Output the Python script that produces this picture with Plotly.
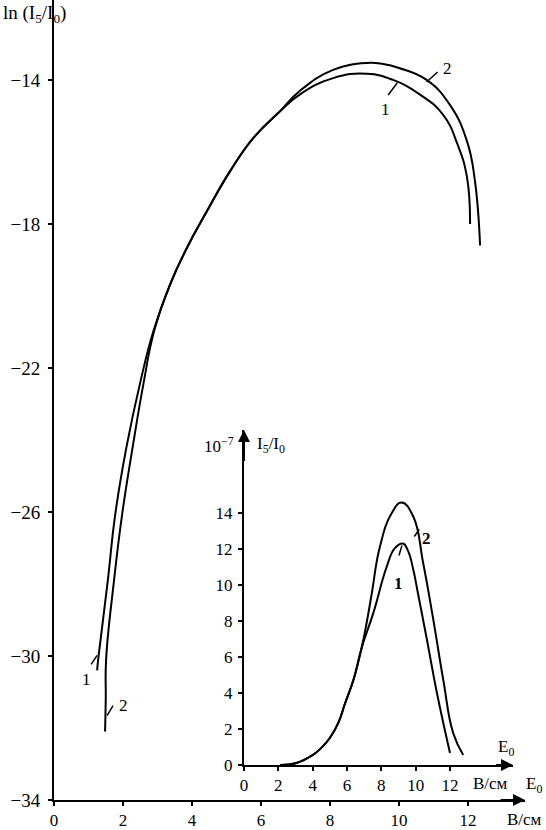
import plotly.graph_objects as go

# main plot: ln(I5/I0) against E0, B/cm
e_main_1 = [1.25, 1.28, 1.56, 1.77, 2.1, 2.5, 2.88, 3.36, 3.85, 4.43, 5.1, 5.78,
            6.55, 7.13, 8.09, 9.07, 9.83, 10.6, 11.28, 11.7, 11.97, 12.06]
ln_main_1 = [-30.4, -30.1, -27.9, -26.1, -24.2, -22.4, -20.98, -19.69, -18.67, -17.65, -16.54, -15.61,
             -14.87, -14.4, -13.95, -13.83, -14.0, -14.4, -14.97, -15.8, -16.7, -18.0]

e_main_2 = [1.48, 1.5, 1.51, 1.74, 1.97, 2.28, 2.6, 2.9, 3.36, 3.85, 4.43, 5.1, 5.78,
            6.55, 7.13, 8.09, 9.07, 9.54, 10.0, 10.8, 11.48, 11.97, 12.2, 12.35]
ln_main_2 = [-32.1, -31.2, -30.1, -27.9, -26.1, -24.2, -22.4, -20.98, -19.69, -18.67, -17.65, -16.54, -15.61,
             -14.87, -14.3, -13.72, -13.53, -13.56, -13.67, -14.0, -14.7, -15.7, -16.8, -18.6]

# inset: I5/I0 in units of 1e-7
e_ins_1 = [2.1, 3.0, 4.0, 4.5, 5.0, 5.5, 5.88, 6.4, 6.85, 7.53, 8.31, 8.79, 9.26, 9.55, 9.85,
           10.13, 10.66, 11.24, 12.0]
i_ins_1 = [0.0, 0.1, 0.55, 0.95, 1.5, 2.35, 3.4, 4.8, 6.5, 8.43, 11.0, 12.04, 12.3, 11.9, 10.9,
           9.55, 6.94, 4.0, 0.67]

e_ins_2 = [2.1, 3.0, 4.0, 4.5, 5.0, 5.5, 5.88, 6.4, 6.85, 7.14, 7.44, 7.92, 8.6, 9.18, 9.86,
           10.44, 11.03, 11.61, 12.19, 12.77]
i_ins_2 = [0.0, 0.1, 0.55, 0.95, 1.5, 2.35, 3.4, 4.8, 6.5, 7.87, 9.5, 12.13, 13.98, 14.57, 13.8,
           11.2, 8.06, 4.72, 1.76, 0.56]

main_xticks = [0, 2, 4, 6, 8, 10, 12]
main_yticks = [-34, -30, -26, -22, -18, -14]
ins_xticks = [0, 2, 4, 6, 8, 10, 12]
ins_yticks = [0, 2, 4, 6, 8, 10, 12, 14]

FONT = "Liberation Serif"
line = dict(color="black", width=2)
spline = dict(line_shape="spline", line_smoothing=1.3)

fig = go.Figure()
fig.add_trace(go.Scatter(x=e_main_1, y=ln_main_1, mode="lines", line=line, **spline))
fig.add_trace(go.Scatter(x=e_main_2, y=ln_main_2, mode="lines", line=line, **spline))
fig.add_trace(go.Scatter(x=e_ins_1, y=i_ins_1, mode="lines", line=line, xaxis="x2", yaxis="y2", **spline))
fig.add_trace(go.Scatter(x=e_ins_2, y=i_ins_2, mode="lines", line=line, xaxis="x2", yaxis="y2", **spline))


def ax_style(size):
    return dict(showline=True, linecolor="black", linewidth=2, ticks="outside",
                tickcolor="black", tickwidth=2, ticklen=4, showgrid=False, automargin=False,
                zeroline=False, tickfont=dict(family=FONT, size=size, color="black"))


fig.update_layout(
    width=546, height=830,
    margin=dict(l=54, r=21, t=0, b=30),
    plot_bgcolor="white", paper_bgcolor="white",
    showlegend=False,
    xaxis=dict(range=[0, 13.652], tickvals=main_xticks, ticklabelstandoff=0, **ax_style(17)),
    yaxis=dict(range=[-34, -11.78], tickvals=main_yticks,
               ticktext=["\u2212" + str(abs(v)) for v in main_yticks],
               ticklabelstandoff=4, **ax_style(19)),
    xaxis2=dict(domain=[0.4034, 0.9745], anchor="y2", range=[0, 15.67],
                tickvals=ins_xticks, ticklabelstandoff=0, **ax_style(17)),
    yaxis2=dict(domain=[0.04375, 0.4625], anchor="x2", range=[0, 18.6],
                tickvals=ins_yticks, ticklabelstandoff=2, **ax_style(17)),
)

# axis arrows
arrow = dict(text="", showarrow=True, arrowhead=2, arrowsize=1.2, arrowwidth=2, arrowcolor="black")
fig.add_annotation(x=13.652, y=-34, ax=12.9, ay=-34, axref="x", ayref="y", **arrow)
fig.add_annotation(x=15.67, y=0, ax=14.6, ay=0, xref="x2", yref="y2", axref="x2", ayref="y2", **arrow)
fig.add_annotation(x=0, y=18.6, ax=0, ay=16.8, xref="x2", yref="y2", axref="x2", ayref="y2", **arrow)

# axis titles
txt = dict(showarrow=False, xref="paper", yref="paper", font=dict(family=FONT, size=17, color="black"))
fig.add_annotation(x=-0.113, y=1.0, xanchor="left", yanchor="top",
                   text="ln (I<sub>5</sub>/I<sub>0</sub>)",
                   **{**txt, "font": dict(family=FONT, size=19, color="black")})
fig.add_annotation(x=1.04, y=-0.025, xanchor="right", yanchor="middle", text="В/см", **txt)
fig.add_annotation(x=1.04, y=0.019, xanchor="right", yanchor="middle", text="E<sub>0</sub>", **txt)
fig.add_annotation(x=0.968, y=0.021, xanchor="right", yanchor="middle", text="В/см", **txt)
fig.add_annotation(x=0.981, y=0.065, xanchor="right", yanchor="middle", text="E<sub>0</sub>", **txt)
fig.add_annotation(x=0.386, y=0.444, xanchor="right", yanchor="middle",
                   text="10<sup>\u22127</sup>", **txt)
fig.add_annotation(x=0.427, y=0.444, xanchor="left", yanchor="middle",
                   text="I<sub>5</sub>/I<sub>0</sub>", **txt)

# curve labels: anchor on a curve point, text and leader offset in pixels (screen, y down)
labels = [
    ("x", "y", e_main_1[0], ln_main_1[0], "1", -11, 9, (-6, -6, 0, -15), False),
    ("x", "y", e_main_2[0], ln_main_2[0], "2", 18, -26, (2, -16, 8, -26), False),
    ("x", "y", e_main_1[16], ln_main_1[16], "1", -8, 30, (-5, 15, 4, 3), False),
    ("x", "y", e_main_2[19], ln_main_2[19], "2", 21, -11, (0, 2, 11, -8), False),
    ("x2", "y2", e_ins_2[14], i_ins_2[14], "2", 13, 22, (1, 20, 6, 13), True),
    ("x2", "y2", e_ins_1[12], i_ins_1[12], "1", -4, 40, (-4, 12, -1, 2), True),
]
for xr, yr, xa, ya, t, dx, dy, (x0, y0, x1, y1), bold in labels:
    fig.add_annotation(xref=xr, yref=yr, x=xa, y=ya, xshift=dx, yshift=-dy, text=t,
                       showarrow=False, font=dict(family=FONT, size=17, color="black",
                                                  weight="bold" if bold else "normal"))
    fig.add_shape(type="line", xref=xr, yref=yr, xsizemode="pixel", ysizemode="pixel",
                  xanchor=xa, yanchor=ya, x0=x0, y0=-y0, x1=x1, y1=-y1,
                  line=dict(color="black", width=1.5))

# the page body has an 8px default margin; drop it so the figure fills the window
fig.write_html("out.html", config={"displayModeBar": False},
               post_script="document.body.style.margin='0';")
